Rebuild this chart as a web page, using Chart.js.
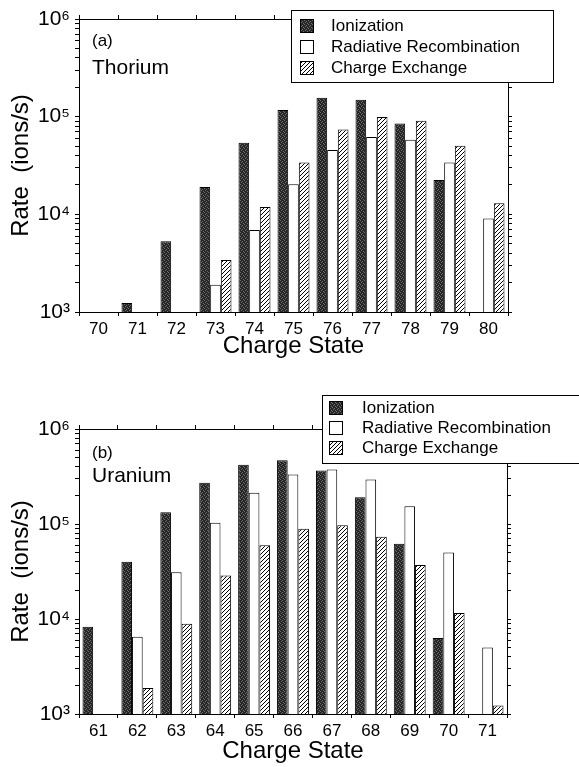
<!DOCTYPE html>
<html>
<head>
<meta charset="utf-8">
<script src="https://cdn.jsdelivr.net/npm/chart.js@4.4.1/dist/chart.umd.min.js"></script>
<style>
  body { margin: 0; background: #fff; }
  #wrap { position: relative; width: 579px; height: 767px; }
  canvas { position: absolute; left: 0; }
</style>
</head>
<body>
<div id="wrap">
  <canvas id="thorium" width="579" height="383" style="top:0"></canvas>
  <canvas id="uranium" width="579" height="384" style="top:383px"></canvas>
</div>
<script>
// charge states on the x axes
const thoriumStates = ['70', '71', '72', '73', '74', '75', '76', '77', '78', '79', '80'];
const uraniumStates = ['61', '62', '63', '64', '65', '66', '67', '68', '69', '70', '71'];

// rates in ions/s (null = no bar)
const thIonization = [null, 1240, 5300, 19000, 54000, 117000, 156000, 149000, 85000, 22500, null];
const thRadiative  = [null, null, null, 1900, 6900, 20300, 45500, 62000, 58000, 34000, 9050];
const thExchange   = [null, null, null, 3400, 11900, 34000, 74000, 99000, 91000, 50500, 13000];

const uIonization = [8300, 40000, 133000, 272000, 420000, 468000, 365000, 191000, 62000, 6300, null];
const uRadiative  = [null, 6500, 31000, 103000, 213000, 332000, 374000, 294000, 154000, 50000, 5000];
const uExchange   = [null, 1880, 8900, 28700, 59800, 89000, 96800, 73600, 37000, 11600, 1230];

const seriesNames = ['Ionization', 'Radiative Recombination', 'Charge Exchange'];

const FONT = '"Liberation Sans", Arial, Helvetica, sans-serif';
Chart.defaults.font.family = FONT;
Chart.defaults.color = '#000';

const sup = { 3: '\u00b3', 4: '\u2074', 5: '\u2075', 6: '\u2076' };

function stipple() {
  const c = document.createElement('canvas');
  c.width = 4; c.height = 4;
  const g = c.getContext('2d');
  g.fillStyle = '#262626';
  g.fillRect(0, 0, 4, 4);
  g.fillStyle = '#6e6e6e';
  g.fillRect(0, 0, 1, 1);
  g.fillRect(2, 1, 1, 1);
  g.fillRect(1, 2, 1, 1);
  g.fillRect(3, 3, 1, 1);
  return g.createPattern(c, 'repeat');
}

function hatch() {
  const c = document.createElement('canvas');
  c.width = 4; c.height = 4;
  const g = c.getContext('2d');
  g.fillStyle = '#fff';
  g.fillRect(0, 0, 4, 4);
  g.strokeStyle = '#000';
  g.lineWidth = 1;
  g.beginPath();
  g.moveTo(0, 4); g.lineTo(4, 0);
  g.moveTo(-1, 1); g.lineTo(1, -1);
  g.moveTo(3, 5); g.lineTo(5, 3);
  g.stroke();
  return g.createPattern(c, 'repeat');
}

// keep only 1..9 x 10^n ticks on the log axes
function wholeLogTicks(scale) {
  scale.ticks = scale.ticks.filter(t => {
    const m = t.value / Math.pow(10, Math.floor(Math.log10(t.value) + 1e-9));
    return Math.abs(m - Math.round(m)) < 1e-6;
  });
}

// boxed legend + panel tag drawn over the frame
const boxLegend = {
  id: 'boxLegend',
  afterDraw(chart, args, o) {
    const ctx = chart.ctx;
    ctx.save();
    ctx.fillStyle = '#fff';
    ctx.fillRect(o.x, o.y, o.w, o.h);
    ctx.strokeStyle = '#000';
    ctx.lineWidth = 1;
    ctx.strokeRect(o.x + 0.5, o.y + 0.5, o.w, o.h);
    ctx.textBaseline = 'middle';
    ctx.textAlign = 'left';
    ctx.font = '17px ' + FONT;
    chart.data.datasets.forEach((ds, i) => {
      const cy = o.rows[i];
      ctx.fillStyle = ds.backgroundColor;
      ctx.fillRect(o.sx, cy - 7, 14, 14);
      ctx.strokeRect(o.sx + 0.5, cy - 6.5, 13, 13);
      ctx.fillStyle = '#000';
      ctx.fillText(ds.label, o.tx, cy);
    });
    ctx.font = '17px ' + FONT;
    ctx.fillText(o.tag, 92, o.tagY);
    ctx.font = '21px ' + FONT;
    ctx.fillText(o.element, 92, o.elY);
    ctx.restore();
  }
};

function makePanel(id, states, ion, rr, cx, geo) {
  const bar = { barPercentage: 1, categoryPercentage: 0.82, borderColor: '#000', borderWidth: 1 };
  new Chart(document.getElementById(id), {
    type: 'bar',
    data: {
      labels: states,
      datasets: [
        Object.assign({ label: seriesNames[0], data: ion, backgroundColor: stipple() }, bar),
        Object.assign({ label: seriesNames[1], data: rr, backgroundColor: '#fff' }, bar),
        Object.assign({ label: seriesNames[2], data: cx, backgroundColor: hatch() }, bar)
      ]
    },
    options: {
      responsive: false,
      animation: false,
      devicePixelRatio: 1,
      layout: { padding: { left: 0, right: geo.padRight, top: geo.padTop, bottom: 0 } },
      scales: {
        x: {
          type: 'category',
          position: 'bottom',
          offset: true,
          afterFit: s => { s.height = geo.xHeight; },
          border: { color: '#000', width: 1 },
          grid: { offset: true, drawOnChartArea: false, color: '#000', tickLength: 4 },
          ticks: { color: '#000', font: { size: 17 }, padding: 3, maxRotation: 0, autoSkip: false },
          title: { display: true, text: 'Charge State', color: '#000', font: { size: 24 },
                   padding: { top: 0, bottom: geo.titlePad } }
        },
        x2: {
          type: 'category',
          position: 'top',
          offset: true,
          afterFit: s => { s.height = 5; },
          border: { color: '#000', width: 1 },
          grid: { offset: true, drawOnChartArea: false, color: '#000', tickLength: 4 },
          ticks: { display: false }
        },
        y: {
          type: 'logarithmic',
          position: 'left',
          min: 1000,
          max: 1000000,
          afterFit: s => { s.width = 79; },
          afterBuildTicks: wholeLogTicks,
          border: { color: '#000', width: 1 },
          grid: { drawOnChartArea: false, color: '#000', tickLength: 4 },
          ticks: {
            autoSkip: false,
            padding: 5,
            color: '#000',
            font: { size: 21 },
            callback: v => {
              const e = Math.log10(v);
              return Math.abs(e - Math.round(e)) < 1e-9 ? '10' + sup[Math.round(e)] : '';
            }
          },
          title: { display: true, text: 'Rate  (ions/s)', color: '#000', font: { size: 24 },
                   padding: { top: 7, bottom: 0 } }
        },
        y2: {
          type: 'logarithmic',
          position: 'right',
          min: 1000,
          max: 1000000,
          afterFit: s => { s.width = 5; },
          afterBuildTicks: wholeLogTicks,
          border: { color: '#000', width: 1 },
          grid: { drawOnChartArea: false, color: '#000', tickLength: 4 },
          ticks: { display: false }
        }
      },
      plugins: {
        legend: { display: false },
        tooltip: { enabled: false },
        boxLegend: geo.legend
      }
    },
    plugins: [boxLegend]
  });
}

makePanel('thorium', thoriumStates, thIonization, thRadiative, thExchange, {
  padRight: 66, padTop: 14, xHeight: 71, titlePad: 22,
  legend: { x: 291, y: 10, w: 262, h: 72, rows: [26, 47, 68], sx: 300, tx: 331,
            tag: '(a)', tagY: 41, element: 'Thorium', elY: 68 }
});

makePanel('uranium', uraniumStates, uIonization, uRadiative, uExchange, {
  padRight: 67, padTop: 41, xHeight: 53, titlePad: 1,
  legend: { x: 322, y: 12, w: 262, h: 68, rows: [25, 45, 65], sx: 329, tx: 362,
            tag: '(b)', tagY: 70, element: 'Uranium', elY: 93 }
});
</script>
</body>
</html>
